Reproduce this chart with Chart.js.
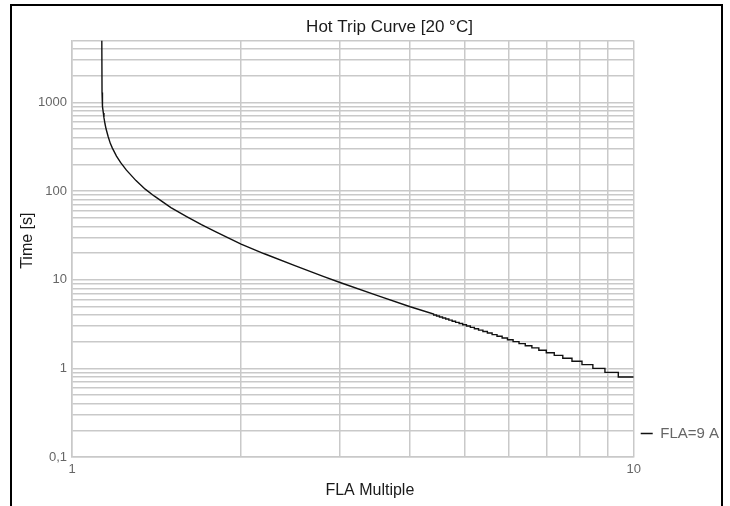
<!DOCTYPE html>
<html>
<head>
<meta charset="utf-8">
<script src="https://cdn.jsdelivr.net/npm/chart.js@4/dist/chart.umd.min.js"></script>
<style>
  html, body { margin: 0; padding: 0; background: #fff; }
  #wrap { position: relative; width: 730px; height: 506px; }
  #frame { position: absolute; left: 10px; top: 4px; width: 709px; height: 520px; border: 2px solid #000; pointer-events: none; }
  canvas { position: absolute; left: 0; top: 0; }
</style>
</head>
<body>
<div id="wrap">
  <canvas id="chart" width="730" height="506"></canvas>
  <div id="frame"></div>
</div>
<script>
// trip curve (FLA multiple -> seconds)
const flaMultiple = [
  1.13, 1.131, 1.132, 1.134, 1.137, 1.14, 1.145, 1.15, 1.16, 1.17, 1.18, 1.2, 1.22, 1.25,
  1.3, 1.35, 1.4, 1.5, 1.6, 1.7, 1.8, 2.0, 2.2, 2.5, 2.8, 3.0, 3.5, 4.0,
  4.404, 4.404, 4.456, 4.456, 4.510, 4.510, 4.567, 4.567, 4.626, 4.626, 4.687, 4.687,
  4.751, 4.751, 4.818, 4.818, 4.888, 4.888, 4.961, 4.961, 5.038, 5.038, 5.119, 5.119,
  5.204, 5.204, 5.294, 5.294, 5.389, 5.389, 5.489, 5.489, 5.596, 5.596, 5.710, 5.710,
  5.831, 5.831, 5.960, 5.960, 6.099, 6.099, 6.249, 6.249, 6.411, 6.411, 6.587, 6.587,
  6.778, 6.778, 6.988, 6.988, 7.220, 7.220, 7.477, 7.477, 7.764, 7.764, 8.089, 8.089,
  8.458, 8.458, 8.887, 8.887, 9.387, 9.387, 10
];
const tripTime = [
  5000, 1290, 1100, 900, 760, 670, 570, 500, 410, 345, 305, 248, 210, 172,
  131, 105, 88, 65, 51.5, 41.8, 34.8, 25.2, 19.6, 14.3, 10.9, 9.3, 6.6, 4.95,
  4.1, 4.0, 4.0, 3.9, 3.9, 3.8, 3.8, 3.7, 3.7, 3.6, 3.6, 3.5,
  3.5, 3.4, 3.4, 3.3, 3.3, 3.2, 3.2, 3.1, 3.1, 3.0, 3.0, 2.9,
  2.9, 2.8, 2.8, 2.7, 2.7, 2.6, 2.6, 2.5, 2.5, 2.4, 2.4, 2.3,
  2.3, 2.2, 2.2, 2.1, 2.1, 2.0, 2.0, 1.9, 1.9, 1.8, 1.8, 1.7,
  1.7, 1.6, 1.6, 1.5, 1.5, 1.4, 1.4, 1.3, 1.3, 1.2, 1.2, 1.1,
  1.1, 1.0, 1.0, 0.9, 0.9, 0.8, 0.8
];

const seriesLabel = 'FLA=9 A';
const yDecades = [0.1, 1, 10, 100, 1000];
const yTickLabels = ['0,1', '1', '10', '100', '1000'];
const xTickValues = [1, 10];
const xTickLabels = ['1', '10'];
const gridSteps = [1, 2, 3, 4, 5, 6, 7, 8, 9];

const Y_MIN = 0.1, Y_MAX = 5000, X_MIN = 1, X_MAX = 10;
const FONT = "'Liberation Sans', Arial, Helvetica, sans-serif";
const GRID = '#c9c9c9';

function gridValues(decades, max) {
    const out = [];
    decades.forEach(d => {
        gridSteps.forEach(k => {
            const v = Number((d * k).toPrecision(6));
            if (v <= max) out.push(v);
        });
    });
    if (out[out.length - 1] < max) out.push(max);
    return out;
}

function labelFor(value, values, labels) {
    const i = values.findIndex(v => Math.abs(v - value) / v < 1e-6);
    return i >= 0 ? labels[i] : '';
}

// nudge title blocks the way the original export places them
function shiftDraw(scale, fnName, dx, dy) {
    if (scale['_shift_' + fnName]) return;
    const orig = scale[fnName].bind(scale);
    scale[fnName] = (...args) => {
        const ctx = scale.ctx;
        ctx.save();
        ctx.translate(dx, dy);
        orig(...args);
        ctx.restore();
    };
    scale['_shift_' + fnName] = true;
}

const nudgePlugin = {
    id: 'nudge',
    afterLayout(chart) {
        chart.titleBlock.left += 19;
        chart.titleBlock.right += 19;
        chart.legend.top -= 9;
        chart.legend.bottom -= 9;
    },
    beforeDraw(chart) {
        shiftDraw(chart.scales.x, 'drawTitle', 17, 0);
        shiftDraw(chart.scales.y, 'drawTitle', 0, -8);
    }
};

Chart.defaults.font.family = FONT;

new Chart(document.getElementById('chart'), {
    type: 'line',
    data: {
        datasets: [{
            label: seriesLabel,
            data: flaMultiple.map((m, i) => ({ x: m, y: tripTime[i] })),
            borderColor: '#111',
            backgroundColor: '#111',
            borderWidth: 1.4,
            pointRadius: 0,
            tension: 0,
            fill: false
        }]
    },
    plugins: [nudgePlugin],
    options: {
        responsive: false,
        animation: false,
        layout: { padding: { left: 12, right: 1, top: 8, bottom: 0 } },
        plugins: {
            title: {
                display: true,
                text: 'Hot Trip Curve [20 °C]',
                color: '#1a1a1a',
                font: { size: 17, weight: 'normal' },
                padding: { top: 9, bottom: 3 }
            },
            legend: {
                position: 'right',
                align: 'end',
                fullSize: false,
                labels: {
                    color: '#666',
                    font: { size: 15 },
                    usePointStyle: true,
                    pointStyle: 'line',
                    pointStyleWidth: 12,
                    padding: 7
                }
            },
            tooltip: { enabled: false }
        },
        scales: {
            x: {
                type: 'logarithmic',
                min: X_MIN,
                max: X_MAX,
                afterBuildTicks: scale => {
                    scale.ticks = gridValues([1], X_MAX).map(v => ({ value: v }));
                },
                afterFit: scale => { scale.height = 49; },
                grid: { color: GRID, lineWidth: 1.5, drawTicks: false },
                border: { color: GRID, width: 1.5 },
                ticks: {
                    autoSkip: false,
                    maxRotation: 0,
                    padding: 5,
                    color: '#666',
                    font: { size: 13 },
                    callback: v => labelFor(v, xTickValues, xTickLabels)
                },
                title: {
                    display: true,
                    text: 'FLA Multiple',
                    color: '#1a1a1a',
                    font: { size: 16 },
                    padding: { top: 0, bottom: 6 }
                }
            },
            y: {
                type: 'logarithmic',
                min: Y_MIN,
                max: Y_MAX,
                afterBuildTicks: scale => {
                    scale.ticks = gridValues(yDecades, Y_MAX).map(v => ({ value: v }));
                },
                afterFit: scale => { scale.width = 60; },
                grid: { color: GRID, lineWidth: 1.5, drawTicks: false },
                border: { color: GRID, width: 1.5 },
                ticks: {
                    autoSkip: false,
                    padding: 5,
                    color: '#666',
                    font: { size: 13 },
                    callback: v => labelFor(v, yDecades, yTickLabels)
                },
                title: {
                    display: true,
                    text: 'Time [s]',
                    color: '#1a1a1a',
                    font: { size: 16 },
                    padding: { top: 6, bottom: 0 }
                }
            }
        }
    }
});
</script>
</body>
</html>
